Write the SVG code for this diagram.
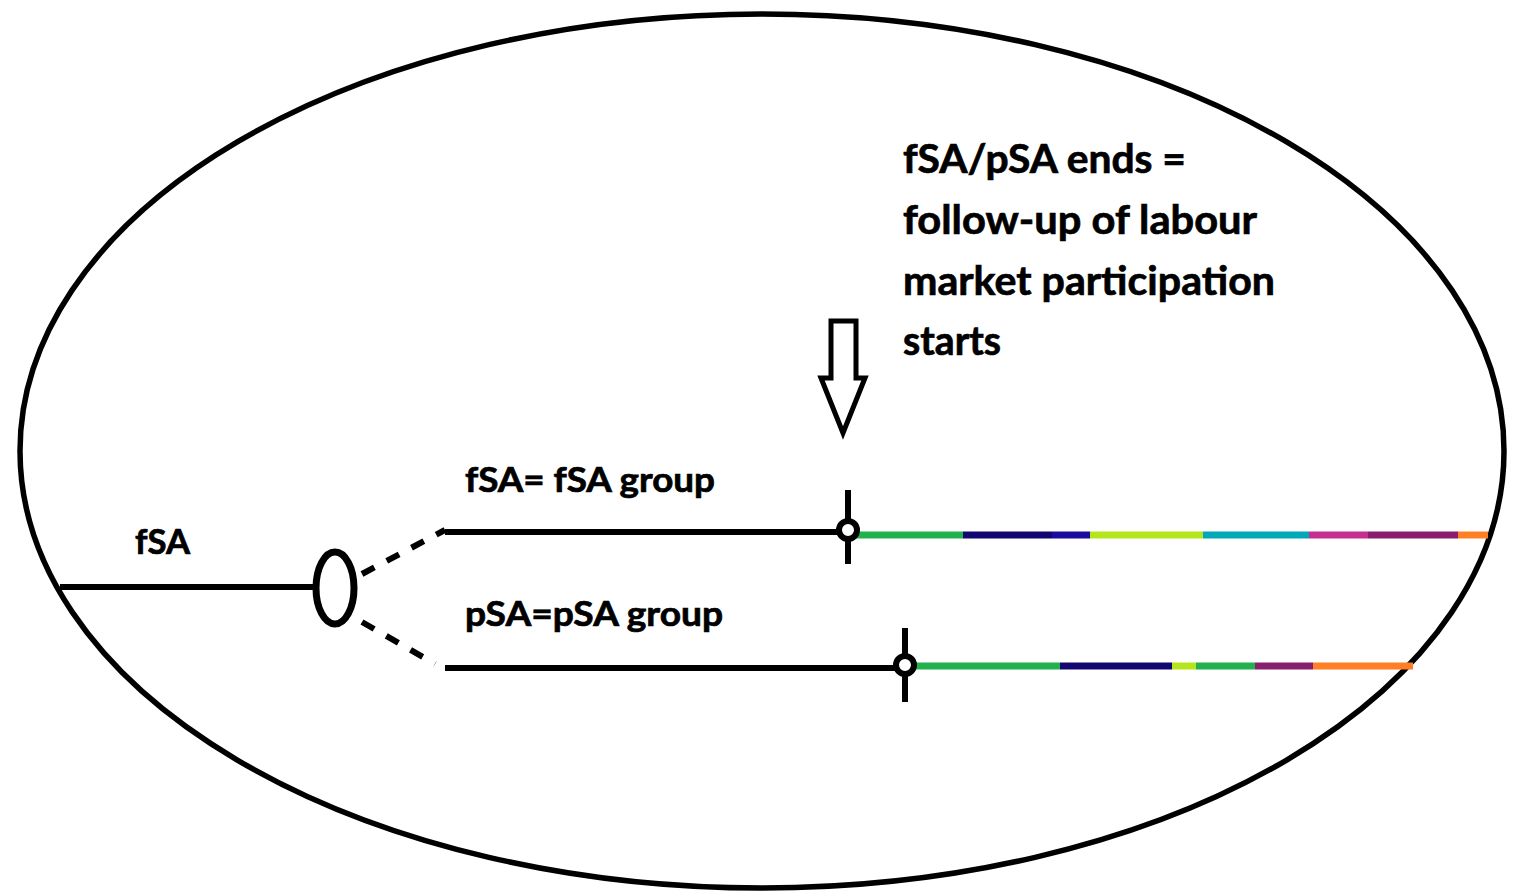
<svg xmlns="http://www.w3.org/2000/svg" width="1517" height="892" viewBox="0 0 1517 892">
<style>
.t{font-family:Lato,"Open Sans","Liberation Sans",sans-serif;font-weight:bold;fill:#000;stroke:#000;stroke-width:0.7}
.s{font-size:34px}
.b{font-size:40px}
.k{stroke:#000;fill:none;stroke-width:6}
.m{fill:#fff;stroke:#000;stroke-width:6}
.c{stroke-width:7;fill:none}
</style>
<rect width="1517" height="892" fill="#fff"/>
<g id="frame"><ellipse cx="762" cy="451" rx="742" ry="437" fill="none" stroke="#000" stroke-width="5.5"/></g>
<g id="connectors">
<line class="k" x1="60" y1="587" x2="318" y2="587"/>
<path class="k" d="M362 574 L445 530" stroke-dasharray="14 14"/>
<path class="k" d="M362 622 L435 664" stroke-dasharray="14 14"/>
<line class="k" x1="445" y1="532" x2="848" y2="532"/>
<line class="k" x1="445" y1="668" x2="905" y2="668"/>
<line class="k" x1="848" y1="490" x2="848" y2="564"/>
<line class="k" x1="905" y1="628" x2="905" y2="702"/>
</g>
<g id="colored-fsa">
<line class="c" x1="856" y1="535" x2="963" y2="535" stroke="#22b14c"/>
<line class="c" x1="963" y1="535" x2="1052" y2="535" stroke="#120670"/>
<line class="c" x1="1052" y1="535" x2="1090" y2="535" stroke="#1a0c9c"/>
<line class="c" x1="1090" y1="535" x2="1203" y2="535" stroke="#b5e61d"/>
<line class="c" x1="1203" y1="535" x2="1309" y2="535" stroke="#00a8b8"/>
<line class="c" x1="1309" y1="535" x2="1368" y2="535" stroke="#c3308f"/>
<line class="c" x1="1368" y1="535" x2="1458" y2="535" stroke="#871e6e"/>
<line class="c" x1="1458" y1="535" x2="1488" y2="535" stroke="#ff7f27"/>
</g>
<g id="colored-psa">
<line class="c" x1="912" y1="666" x2="1060" y2="666" stroke="#22b14c"/>
<line class="c" x1="1060" y1="666" x2="1172" y2="666" stroke="#120670"/>
<line class="c" x1="1172" y1="666" x2="1196" y2="666" stroke="#b5e61d"/>
<line class="c" x1="1196" y1="666" x2="1255" y2="666" stroke="#22b14c"/>
<line class="c" x1="1255" y1="666" x2="1313" y2="666" stroke="#871e6e"/>
<line class="c" x1="1313" y1="666" x2="1413" y2="666" stroke="#ff7f27"/>
</g>
<g id="split-node"><ellipse cx="335" cy="588" rx="19" ry="36" fill="#fff" stroke="#000" stroke-width="7"/></g>
<g id="fsa-end"><circle cx="848" cy="530" r="9" class="m"/></g>
<g id="psa-end"><circle cx="905" cy="665" r="9" class="m"/></g>
<g id="arrow"><path d="M831 321 H856 V378 H865 L843 433 L821 378 H831 Z" fill="#fff" stroke="#000" stroke-width="5" stroke-linejoin="miter"/></g>
<g id="labels">
<text class="t s" x="135" y="554" textLength="55" lengthAdjust="spacingAndGlyphs">fSA</text>
<text class="t s" x="465" y="492" textLength="250" lengthAdjust="spacingAndGlyphs">fSA= fSA group</text>
<text class="t s" x="465" y="626" textLength="258" lengthAdjust="spacingAndGlyphs">pSA=pSA group</text>
</g>
<g id="note">
<text class="t b" x="903" y="173" textLength="283" lengthAdjust="spacingAndGlyphs">fSA/pSA ends =</text>
<text class="t b" x="903" y="234" textLength="354" lengthAdjust="spacingAndGlyphs">follow-up of labour</text>
<text class="t b" x="903" y="295" textLength="372" lengthAdjust="spacingAndGlyphs">market participation</text>
<text class="t b" x="903" y="355" textLength="98" lengthAdjust="spacingAndGlyphs">starts</text>
</g>
</svg>
